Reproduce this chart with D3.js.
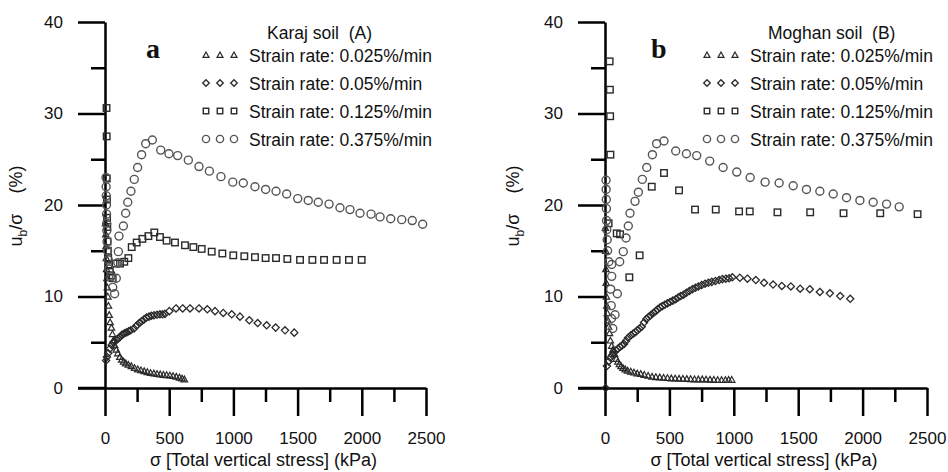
<!DOCTYPE html>
<html lang="en">
<head>
<meta charset="UTF-8">
<title>Strain rate plots</title>
<script src="https://cdnjs.cloudflare.com/ajax/libs/d3/7.8.5/d3.min.js"></script>
<style>
  body { margin: 0; background: #fff; }
  text { font-family: Arial, "Liberation Sans", sans-serif; fill: #111; }
</style>
</head>
<body>
<div id="chart"></div>
<script>
// ---- data: [sigma (kPa), ub/sigma (%)] ----
const karaj025 = [[4,18.0],[6,16.8],[8,15.5],[10,14.2],[12,13.0],[15,12.0],[18,11.0],[22,10.0],[27,9.0],[33,8.0],[40,7.2],[50,6.6],[58,5.9],[65,5.2],[75,4.7],[88,4.2],[100,3.8],[115,3.4],[130,3.1],[145,2.9],[162,2.7],[182,2.55],[205,2.4],[230,2.2],[255,2.05],[280,1.95],[305,1.85],[330,1.75],[355,1.65],[380,1.6],[405,1.55],[430,1.5],[455,1.45],[480,1.42],[505,1.38],[530,1.32],[555,1.25],[580,1.15],[600,1.05],[618,0.95]];
const karaj05 = [[8,3.0],[15,3.4],[25,3.8],[38,4.3],[52,4.7],[65,5.0],[78,5.1],[92,5.3],[104,5.4],[118,5.6],[130,5.8],[143,5.9],[156,6.0],[170,6.1],[185,6.2],[200,6.3],[226,6.5],[245,6.8],[267,7.1],[285,7.3],[304,7.5],[323,7.7],[343,7.8],[362,7.9],[382,7.95],[405,8.0],[428,8.05],[448,8.05],[467,8.1],[501,8.4],[553,8.7],[605,8.7],[662,8.7],[732,8.7],[797,8.6],[857,8.4],[921,8.2],[987,8.05],[1051,7.8],[1124,7.4],[1189,7.1],[1259,6.85],[1329,6.6],[1402,6.3],[1474,6.05]];
const karaj0125 = [[12,30.6],[13,27.5],[14,22.9],[15,20.6],[16,18.6],[18,17.6],[20,16.0],[22,15.0],[25,14.2],[30,13.4],[38,12.8],[48,12.3],[60,12.0],[83,13.6],[117,13.6],[150,13.8],[182,14.2],[208,15.4],[247,15.9],[291,16.3],[338,16.6],[384,17.0],[428,16.5],[480,16.1],[545,15.9],[623,15.6],[688,15.4],[753,15.2],[831,14.9],[914,14.7],[999,14.5],[1085,14.4],[1168,14.3],[1251,14.2],[1332,14.2],[1420,14.1],[1519,14.0],[1615,14.0],[1706,14.0],[1804,14.0],[1900,14.0],[1999,14.0]];
const karaj0375 = [[8,23.0],[9,22.0],[10,21.0],[11,20.0],[12,19.0],[13,18.0],[14,17.2],[16,16.0],[20,15.0],[25,14.0],[32,13.0],[45,12.2],[60,11.0],[75,10.3],[88,12.0],[100,13.7],[104,14.9],[109,16.6],[143,17.7],[161,19.1],[177,20.3],[202,21.5],[228,22.8],[254,24.1],[285,25.5],[317,26.7],[369,27.1],[434,26.0],[498,25.6],[566,25.4],[649,24.9],[732,24.2],[813,23.7],[903,23.1],[995,22.5],[1077,22.4],[1168,22.0],[1251,21.7],[1332,21.5],[1415,21.2],[1501,20.7],[1583,20.5],[1661,20.3],[1745,20.1],[1830,19.7],[1908,19.5],[1986,19.1],[2072,19.0],[2142,18.7],[2225,18.5],[2311,18.4],[2393,18.3],[2474,17.9]];

const moghan025 = [[3,17.5],[5,15.0],[7,13.0],[9,11.5],[11,10.0],[14,9.0],[18,8.2],[23,7.4],[28,6.7],[35,6.0],[42,5.2],[52,4.6],[62,4.2],[75,3.7],[88,3.2],[100,2.9],[112,2.6],[125,2.4],[140,2.2],[157,2.05],[175,1.9],[200,1.8],[225,1.7],[250,1.6],[277,1.55],[305,1.45],[335,1.35],[365,1.25],[395,1.2],[425,1.17],[455,1.13],[485,1.1],[515,1.06],[545,1.05],[575,1.03],[605,1.02],[635,1.0],[665,0.98],[695,0.96],[725,0.95],[755,0.95],[785,0.94],[815,0.92],[845,0.9],[875,0.88],[905,0.88],[935,0.88],[960,0.9],[984,0.9]];
const moghan05 = [[5,0],[15,2.4],[28,2.9],[42,3.3],[56,3.6],[70,3.9],[85,4.1],[100,4.3],[117,4.5],[132,4.65],[148,4.8],[163,5.15],[179,5.5],[200,5.75],[220,5.95],[236,6.1],[251,6.3],[268,6.5],[285,6.7],[303,7.15],[321,7.55],[338,7.75],[355,7.95],[375,8.2],[394,8.4],[410,8.6],[427,8.8],[445,8.95],[464,9.1],[485,9.25],[505,9.4],[527,9.55],[549,9.7],[568,9.9],[588,10.05],[610,10.2],[632,10.4],[655,10.6],[678,10.8],[702,10.95],[725,11.1],[751,11.25],[777,11.4],[803,11.5],[829,11.6],[857,11.7],[886,11.8],[912,11.9],[938,11.95],[964,12.0],[989,12.1],[1047,12.05],[1106,11.95],[1171,11.8],[1235,11.5],[1305,11.3],[1373,11.15],[1443,11.1],[1515,10.85],[1590,10.8],[1668,10.5],[1746,10.35],[1826,10.05],[1904,9.75]];
const moghan0125 = [[36,35.7],[38,32.6],[40,29.7],[42,25.5],[28,18.0],[91,16.9],[117,16.8],[189,12.1],[269,14.5],[363,22.0],[458,23.5],[575,21.6],[699,19.5],[860,19.5],[1041,19.3],[1124,19.3],[1339,19.2],[1593,19.2],[1852,19.1],[2137,19.1],[2427,19.0]];
const moghan0375 = [[8,22.7],[9,21.7],[10,20.6],[11,19.6],[12,18.3],[14,17.3],[17,16.2],[20,15.0],[30,13.8],[52,13.5],[52,12.2],[44,10.8],[48,9.0],[50,7.6],[60,6.5],[78,8.0],[96,10.3],[114,13.8],[142,14.9],[163,16.4],[181,17.7],[194,19.1],[233,20.4],[259,21.4],[290,22.8],[324,24.1],[368,25.5],[401,26.7],[458,27.0],[549,25.9],[632,25.6],[712,25.4],[813,24.8],[917,24.1],[1023,23.6],[1127,23.0],[1243,22.5],[1352,22.4],[1461,22.1],[1564,21.7],[1668,21.5],[1772,21.2],[1875,20.8],[1979,20.5],[2082,20.3],[2186,20.1],[2284,19.8]];

const yMajor = [0, 10, 20, 30, 40];
const yMinor = [5, 15, 25, 35];
const xMajor = [0, 500, 1000, 1500, 2000, 2500];
const xMinor = [250, 750, 1250, 1750, 2250];
const rateLabels = ['Strain rate: 0.025%/min', 'Strain rate: 0.05%/min', 'Strain rate: 0.125%/min', 'Strain rate: 0.375%/min'];
const markerKinds = ['triangle', 'diamond', 'square', 'circle'];

const width = 948, height = 472;
const svg = d3.select('#chart').append('svg')
  .attr('width', width).attr('height', height);

const y = d3.scaleLinear().domain([0, 40]).range([388, 22]);

// draw one marker shape
function marker(g, kind, px, py, legend) {
  if (kind === 'circle') {
    g.append('circle').attr('cx', px).attr('cy', py).attr('r', legend ? 3.6 : 4)
      .attr('fill', 'none').attr('stroke', '#555').attr('stroke-width', 1.4);
  } else if (kind === 'square') {
    const s = legend ? 5.5 : 6.5;
    g.append('rect').attr('x', px - s / 2).attr('y', py - s / 2).attr('width', s).attr('height', s)
      .attr('fill', 'none').attr('stroke', '#2a2a2a').attr('stroke-width', 1.4);
  } else if (kind === 'diamond') {
    const h = legend ? 3.3 : 3.6;
    g.append('path').attr('d', `M${px},${py - h}L${px + h},${py}L${px},${py + h}L${px - h},${py}Z`)
      .attr('fill', 'none').attr('stroke', '#2a2a2a').attr('stroke-width', 1.3);
  } else {
    const h = legend ? 3 : 3.2;
    g.append('path').attr('d', `M${px},${py - h}L${px + h},${py + h * 0.8}L${px - h},${py + h * 0.8}Z`)
      .attr('fill', 'none').attr('stroke', '#2a2a2a').attr('stroke-width', 1.2);
  }
}

function panel(opt) {
  const x = d3.scaleLinear().domain([0, 2500]).range([opt.x0, opt.x1]);
  const g = svg.append('g');

  // y axis: major ticks with labels, then minor ticks
  g.append('g').attr('transform', `translate(${opt.x0},0)`)
    .call(d3.axisLeft(y).tickValues(yMajor).tickSize(27).tickPadding(15).tickSizeOuter(0))
    .call(a => a.selectAll('text').style('font-size', '17px'));
  g.append('g').attr('transform', `translate(${opt.x0},0)`)
    .call(d3.axisLeft(y).tickValues(yMinor).tickSize(14).tickFormat(() => '').tickSizeOuter(0))
    .call(a => a.select('.domain').remove());

  // x axis
  g.append('g').attr('transform', `translate(0,${y(0)})`)
    .call(d3.axisBottom(x).tickValues(xMajor).tickSize(28).tickPadding(16).tickFormat(d3.format('d')).tickSizeOuter(0))
    .call(a => a.selectAll('text').style('font-size', '17px'));
  g.append('g').attr('transform', `translate(0,${y(0)})`)
    .call(d3.axisBottom(x).tickValues(xMinor).tickSize(14).tickFormat(() => '').tickSizeOuter(0))
    .call(a => a.select('.domain').remove());

  // left end of the x axis line and lower end of the y axis line
  g.append('line').attr('x1', opt.x0 - 27).attr('x2', opt.x0).attr('y1', y(0)).attr('y2', y(0));
  g.selectAll('line, path.domain').attr('stroke', 'black').attr('stroke-width', 2.5);

  // data points, in legend order
  opt.series.forEach((s, i) => {
    const sg = g.append('g');
    s.forEach(d => marker(sg, markerKinds[i], x(d[0]), y(d[1]), false));
  });

  // axis titles
  g.append('text').attr('x', (opt.x0 + opt.x1) / 2 - 2).attr('y', 466)
    .attr('text-anchor', 'middle').style('font-size', '18px')
    .text('σ [Total vertical stress] (kPa)');
  const yl = g.append('text').attr('transform', `translate(${opt.ylx},206) rotate(-90)`)
    .attr('text-anchor', 'middle').style('font-size', '18px').attr('xml:space', 'preserve');
  yl.append('tspan').text('u');
  yl.append('tspan').attr('dy', 5).style('font-size', '12px').text('b');
  yl.append('tspan').attr('dy', -5).text('/σ    (%)');

  // panel letter
  g.append('text').attr('x', opt.letterX).attr('y', 58)
    .style('font-family', '"Liberation Serif", "DejaVu Serif", serif')
    .style('font-weight', 'bold').style('font-size', '28px').text(opt.letter);

  // legend
  g.append('text').attr('x', opt.legX + 18).attr('y', 39).attr('xml:space', 'preserve')
    .style('font-size', '17.5px').text(opt.title);
  rateLabels.forEach((lab, i) => {
    const ly = 55 + i * 28;
    [0, 14, 28].forEach(dx => marker(g, markerKinds[i], opt.legX - 43 + dx, ly, true));
    g.append('text').attr('x', opt.legX).attr('y', ly + 6.5)
      .style('font-size', '17.5px').text(lab);
  });
}

panel({
  x0: 105, x1: 426, ylx: 22, letter: 'a', letterX: 146, legX: 249,
  title: 'Karaj soil  (A)',
  series: [karaj025, karaj05, karaj0125, karaj0375]
});
panel({
  x0: 605, x1: 927, ylx: 519, letter: 'b', letterX: 651, legX: 750,
  title: 'Moghan soil  (B)',
  series: [moghan025, moghan05, moghan0125, moghan0375]
});
</script>
</body>
</html>
